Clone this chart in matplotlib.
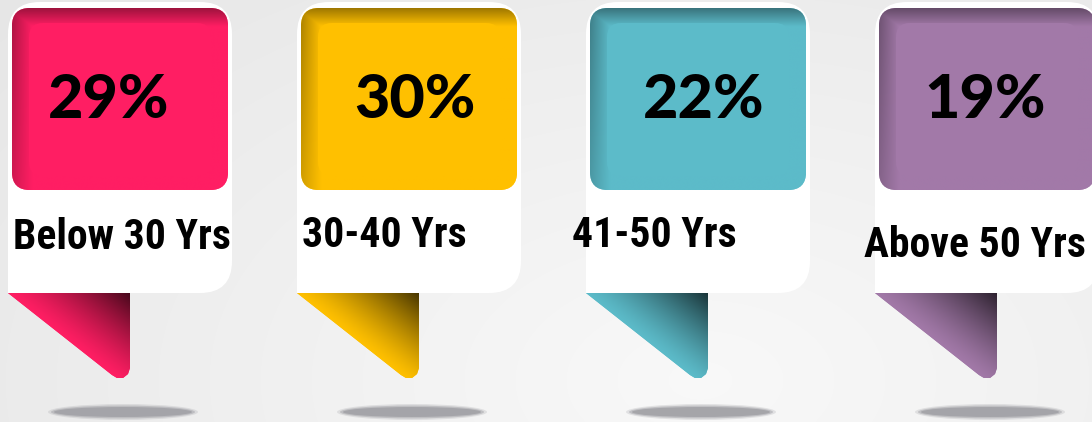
import numpy as np
import matplotlib
matplotlib.use("Agg")
import matplotlib.pyplot as plt
from matplotlib.patches import FancyBboxPatch, Rectangle, Polygon, Ellipse
from matplotlib.colors import to_rgb
from matplotlib import font_manager as fm

# ---- data ----
categories = ["Below 30 Yrs", "30-40 Yrs", "41-50 Yrs", "Above 50 Yrs"]
shares = [29, 30, 22, 19]
colors = ["#FF1E63", "#FFC000", "#5CBBC9", "#A279A8"]

# ---- layout (pixels) ----
W, H = 1092, 422
card_x0 = [8, 297, 586, 875]
pct_cx = [109, 415, 704, 985]
lab_x = [122, 302, 572, 975]
lab_ha = ["center", "left", "left", "center"]
lab_y = [249, 247, 247, 257]

names = {f.name for f in fm.fontManager.ttflist}
cond = [n for n in ["Roboto Condensed", "Liberation Sans Narrow", "Open Sans Condensed",
                    "DejaVu Sans Condensed", "Noto Sans Condensed"] if n in names]
lab_family = cond + ["Roboto", "DejaVu Sans"]
lab_size = 30 if cond else 27

# heaviest available face for the percentages
pct_family, pct_weight = "Lato", "bold"
for fam in ["Lato", "Montserrat", "Roboto", "Inter", "Noto Sans", "Open Sans"]:
    ws = [f.weight for f in fm.fontManager.ttflist
          if f.name == fam and isinstance(f.weight, int) and f.style == "normal"]
    if ws and max(ws) >= 800:
        pct_family, pct_weight = fam, max(ws)
        break

fig = plt.figure(figsize=(W / 100, H / 100), dpi=100)
ax = fig.add_axes([0, 0, 1, 1])
ax.set_xlim(0, W)
ax.set_ylim(H, 0)
ax.axis("off")

# background gradient
yy, xx = np.mgrid[0:H, 0:W]
d = np.sqrt(((xx - 700) / 700.0) ** 2 + ((yy - 380) / 420.0) ** 2)
g = 0.975 - 0.07 * np.clip(d, 0, 1.3) / 1.3
bg = np.dstack([g, g, g])
ax.imshow(bg, extent=(0, W, H, 0), zorder=0, interpolation="bilinear")


def grad_image(x0, y0, x1, y1, func, zorder, clip):
    n = 200
    xs = np.linspace(x0, x1, n)
    ys = np.linspace(y0, y1, n)
    X, Y = np.meshgrid(xs, ys)
    img = func(X, Y)
    im = ax.imshow(img, extent=(x0, x1, y1, y0), zorder=zorder,
                   interpolation="bilinear")
    im.set_clip_path(clip)
    return im


for i, (cat, val, col) in enumerate(zip(categories, shares, colors)):
    x0 = card_x0[i]
    rgb = np.array(to_rgb(col))

    # shadow ellipse
    for w, h, a in [(150, 16, 0.25), (144, 13, 0.5), (138, 10, 0.9)]:
        ax.add_patch(Ellipse((x0 + 115, 412), w, h, facecolor="#a2a2a7",
                             edgecolor="none", alpha=a, zorder=1))

    # ribbon
    rib = [(x0, 293), (x0 + 122, 293), (x0 + 122, 368), (x0 + 120, 374),
           (x0 + 115, 378), (x0 + 109, 378), (x0 + 104, 375)]
    rp = Polygon(rib, closed=True, facecolor=col, edgecolor="none", zorder=2)
    ax.add_patch(rp)
    ax_dir = np.array([104.0, 82.0])
    nrm = np.array([ax_dir[1], -ax_dir[0]]) / np.linalg.norm(ax_dir)
    corner_d = np.dot(np.array([122.0, 0.0]), nrm)

    def rib_func(X, Y, x0=x0, rgb=rgb, nrm=nrm, corner_d=corner_d):
        t = ((X - x0) * nrm[0] + (Y - 293) * nrm[1]) / corner_d
        t = np.clip(t, 0, 1) ** 1.3
        dark = rgb * 0.28
        return rgb[None, None, :] * (1 - t[..., None]) + dark[None, None, :] * t[..., None]

    grad_image(x0, 293, x0 + 122, 378, rib_func, 3, rp)

    # white card
    card = FancyBboxPatch((x0, 2), 224, 291,
                          boxstyle="round,pad=0,rounding_size=32",
                          facecolor="white", edgecolor="none", zorder=4)
    ax.add_patch(card)
    ax.add_patch(Rectangle((x0, 240), 40, 53, facecolor="white",
                           edgecolor="none", zorder=4))

    # outer coloured box
    outer = FancyBboxPatch((x0 + 4, 8), 216, 182,
                           boxstyle="round,pad=0,rounding_size=18",
                           facecolor=col, edgecolor="none", zorder=5)
    ax.add_patch(outer)

    def ring_func(X, Y, x0=x0, rgb=rgb):
        ty = np.clip(1 - (Y - 8) / 18.0, 0, 1)
        tx = np.clip(1 - (X - x0 - 4) / 20.0, 0, 1)
        t = np.maximum(ty * 0.9, tx * 0.75)
        t = t * (0.55 + 0.45 * np.clip(1 - (Y - 8) / 180.0, 0, 1))
        f = 1 - 0.42 * t
        return rgb[None, None, :] * f[..., None]

    grad_image(x0 + 4, 8, x0 + 220, 190, ring_func, 6, outer)

    inner = FancyBboxPatch((x0 + 21, 23), 182, 153,
                           boxstyle="round,pad=0,rounding_size=14",
                           facecolor=col, edgecolor="none", zorder=7)
    ax.add_patch(inner)

    # texts
    ax.text(pct_cx[i], 118, f"{val}%", ha="center", va="baseline",
            fontsize=44, fontweight=pct_weight, family=[pct_family, "DejaVu Sans"],
            color="black", zorder=10)
    ax.text(lab_x[i], lab_y[i], cat, ha=lab_ha[i], va="baseline",
            fontsize=lab_size, fontweight="bold", family=lab_family,
            color="black", zorder=10)

fig.savefig("out.png", dpi=100)
